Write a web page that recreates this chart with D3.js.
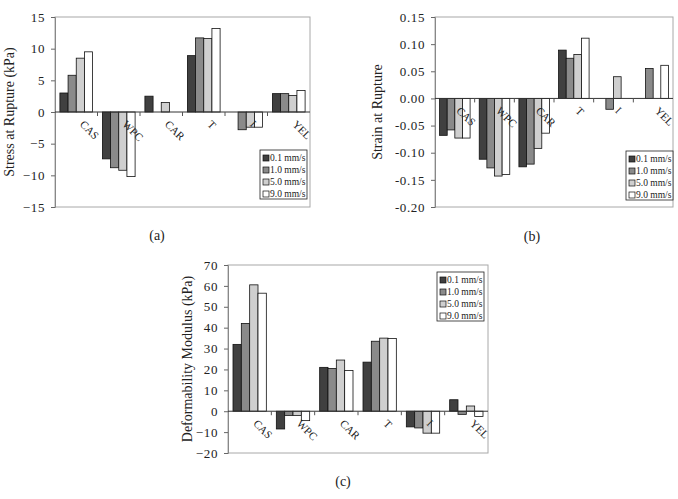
<!DOCTYPE html>
<html lang="en">
<head>
<meta charset="UTF-8">
<title>Rupture charts</title>
<script src="https://d3js.org/d3.v7.min.js"></script>
<style>
  body { margin: 0; background: #fff; }
  svg text { font-family: "Liberation Serif", "DejaVu Serif", serif; fill: #222; }
</style>
</head>
<body>
<script>
// categories and legend
const categories = ["CAS", "WPC", "CAR", "T", "I", "YEL"];
const speeds = ["0.1 mm/s", "1.0 mm/s", "5.0 mm/s", "9.0 mm/s"];
const colors = ["#404040", "#8a8a8a", "#cfcfcf", "#ffffff"];

// (a) stress at rupture, kPa -- one array per speed, null = no bar
const stress01 = [3.0, -7.4, 2.5, 8.9, null, 2.9];
const stress10 = [5.8, -8.8, null, 11.7, -2.8, 2.9];
const stress50 = [8.5, -9.2, 1.5, 11.6, -2.4, 2.6];
const stress90 = [9.5, -10.2, null, 13.2, -2.4, 3.4];

// (b) strain at rupture
const strain01 = [-0.068, -0.112, -0.126, 0.089, null, null];
const strain10 = [-0.058, -0.128, -0.121, 0.074, -0.020, 0.055];
const strain50 = [-0.073, -0.143, -0.092, 0.081, 0.040, null];
const strain90 = [-0.073, -0.140, -0.064, 0.111, null, 0.061];

// (c) deformability modulus, kPa
const modulus01 = [32, -8.5, 21, 23.5, -7.5, 5.5];
const modulus10 = [42, -2, 20.5, 33.5, -8, -1.5];
const modulus50 = [60.5, -2, 24.5, 35, -10.5, 2.5];
const modulus90 = [56.5, -4.5, 19.5, 34.8, -10.5, -2.5];

const stressTicks = [-15, -10, -5, 0, 5, 10, 15];
const strainTicks = [-0.20, -0.15, -0.10, -0.05, 0.00, 0.05, 0.10, 0.15];
const modulusTicks = [-20, -10, 0, 10, 20, 30, 40, 50, 60, 70];

const svg = d3.select("body").append("svg")
    .attr("width", 678)
    .attr("height", 499);

function drawChart(opt) {
    const g = svg.append("g");
    const x = d3.scaleBand().domain(categories).range([opt.left, opt.right]).paddingInner(0).paddingOuter(0);
    const inner = d3.scaleBand().domain(d3.range(speeds.length)).range([0, x.bandwidth()]).paddingInner(0).paddingOuter(0.6);
    const y = d3.scaleLinear().domain(opt.domain).range([opt.bottom, opt.top]);

    // plot frame
    g.append("rect")
        .attr("x", opt.left).attr("y", opt.top)
        .attr("width", opt.right - opt.left).attr("height", opt.bottom - opt.top)
        .attr("fill", "none").attr("stroke", "#a8a8a8").attr("stroke-width", 1);

    // bars
    opt.series.forEach((vals, si) => {
        g.append("g").selectAll("rect")
            .data(vals.map((v, i) => ({ cat: categories[i], v })).filter(d => d.v !== null))
            .join("rect")
            .attr("x", d => x(d.cat) + inner(si))
            .attr("width", inner.bandwidth())
            .attr("y", d => y(Math.max(0, d.v)))
            .attr("height", d => Math.abs(y(d.v) - y(0)))
            .attr("fill", colors[si])
            .attr("stroke", "#111")
            .attr("stroke-width", 0.8);
    });

    // y axis
    const yAxis = d3.axisLeft(y).tickValues(opt.ticks).tickFormat(opt.fmt).tickSize(4).tickPadding(6);
    const ya = g.append("g").attr("transform", `translate(${opt.left},0)`).call(yAxis);
    ya.select(".domain").attr("stroke", "#888");
    ya.selectAll(".tick line").attr("stroke", "#666");
    ya.selectAll("text")
        .attr("font-size", 13)
        .attr("letter-spacing", 0.6)
        .attr("font-family", "Liberation Serif")
        .attr("fill", "#333");

    // zero line with category ticks
    const y0 = y(0);
    g.append("line")
        .attr("x1", opt.left).attr("x2", opt.right)
        .attr("y1", y0).attr("y2", y0)
        .attr("stroke", "#333").attr("stroke-width", 1);
    g.append("g").selectAll("line")
        .data(categories.slice(1))
        .join("line")
        .attr("x1", d => x(d)).attr("x2", d => x(d))
        .attr("y1", y0).attr("y2", y0 + 4)
        .attr("stroke", "#555");

    // rotated category labels
    g.append("g").selectAll("text")
        .data(categories)
        .join("text")
        .attr("transform", d => `translate(${x(d) + x.bandwidth() / 2 + opt.labelDx},${y0 + opt.labelDy}) rotate(45)`)
        .attr("font-size", 11)
        .attr("fill", "#333")
        .text(d => d);

    // y title
    g.append("text")
        .attr("transform", `translate(${opt.titleX},${(opt.top + opt.bottom) / 2}) rotate(-90)`)
        .attr("text-anchor", "middle")
        .attr("font-size", 14)
        .attr("fill", "#333")
        .text(opt.title);

    // legend
    const lg = g.append("g").attr("transform", `translate(${opt.legend[0]},${opt.legend[1]})`);
    lg.append("rect")
        .attr("width", 47).attr("height", 49)
        .attr("fill", "#fff").attr("stroke", "#222").attr("stroke-width", 0.8);
    speeds.forEach((s, i) => {
        lg.append("rect")
            .attr("x", 3).attr("y", 5 + i * 12)
            .attr("width", 6).attr("height", 6)
            .attr("fill", colors[i]).attr("stroke", "#111").attr("stroke-width", 0.7);
        lg.append("text")
            .attr("x", 10).attr("y", 11 + i * 12)
            .attr("font-size", 9.5)
            .attr("fill", "#222")
            .text(s);
    });

    // caption
    g.append("text")
        .attr("x", opt.capX).attr("y", opt.capY)
        .attr("text-anchor", "middle")
        .attr("font-size", 14)
        .attr("fill", "#333")
        .text(opt.caption);
}

drawChart({
    left: 55, right: 310, top: 17, bottom: 207,
    domain: [-15, 15], ticks: stressTicks, fmt: d3.format("d"),
    series: [stress01, stress10, stress50, stress90],
    title: "Stress at Rupture (kPa)", titleX: 14,
    legend: [260, 150], caption: "(a)", capX: 157, capY: 240,
    labelDx: 3, labelDy: 13
});

drawChart({
    left: 435, right: 673, top: 17, bottom: 207,
    domain: [-0.2, 0.15], ticks: strainTicks, fmt: d => d3.format(".2f")(d).replace("−", "-"),
    series: [strain01, strain10, strain50, strain90],
    title: "Strain at Rupture", titleX: 382,
    legend: [626, 151], caption: "(b)", capX: 532, capY: 241,
    labelDx: 1, labelDy: 13
});

drawChart({
    left: 228, right: 488, top: 265, bottom: 453,
    domain: [-20, 70], ticks: modulusTicks, fmt: d3.format("d"),
    series: [modulus01, modulus10, modulus50, modulus90],
    title: "Deformability Modulus (kPa)", titleX: 192,
    legend: [437, 272], caption: "(c)", capX: 343, capY: 486,
    labelDx: 3, labelDy: 13
});
</script>
</body>
</html>
